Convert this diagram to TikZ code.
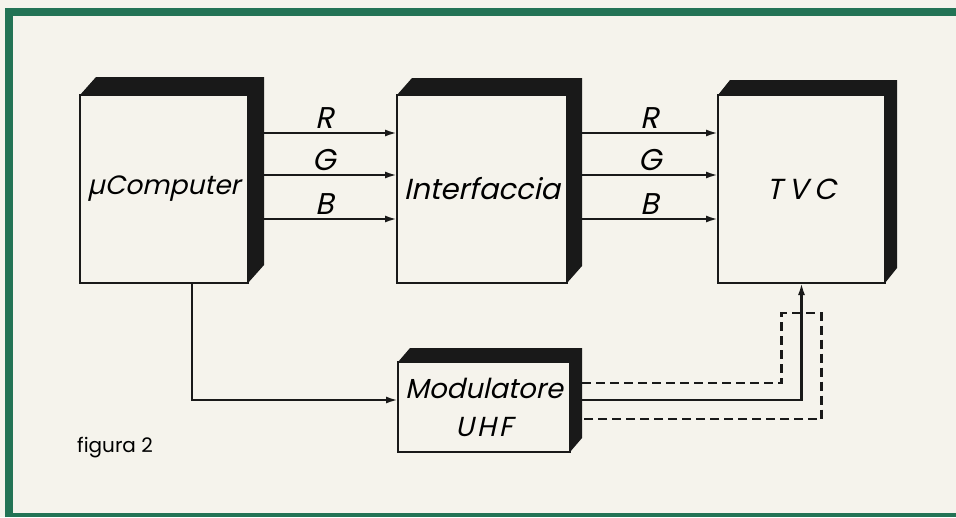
\documentclass[tikz,border=0pt]{standalone}
\usepackage{fontspec}
\setmainfont{Poppins}
\newfontfamily\obl{Poppins}[FakeSlant=0.22]
\usetikzlibrary{arrows.meta,calc}
\definecolor{paper}{RGB}{245,243,236}
\definecolor{framegreen}{RGB}{35,115,85}
\definecolor{ink}{RGB}{25,25,25}
\begin{document}
\begin{tikzpicture}[x=1pt,y=-1pt,
  blockface/.style={draw=ink,line width=2.8pt,fill=paper,inner sep=0pt,outer sep=0pt,
    font=\obl\fontsize{29}{38}\selectfont,align=center},
  wire/.style={draw=ink,line width=2.2pt},
  arr/.style={wire,-{Latex[length=12pt,width=7pt]}},
  shieldline/.style={wire,dash pattern=on 9pt off 5pt},
  lbl/.style={font=\obl\fontsize{30}{32}\selectfont,inner sep=0pt}
]
\fill[paper] (0,0) rectangle (956,517);
\useasboundingbox (0,0) rectangle (956,517);
% frame
\draw[framegreen,line width=8pt] (9,517) -- (9,12) -- (956,12);
\draw[framegreen,line width=4pt] (5,515) -- (956,515);
% blocks (front faces)
\node[blockface,minimum width=168pt,minimum height=188pt,font=\obl\fontsize{26.5}{34}\selectfont] (mc) at (164,189) {µComputer};
\node[blockface,minimum width=170pt,minimum height=188pt] (itf) at (482,189) {Interfaccia};
\node[blockface,minimum width=167pt,minimum height=188pt] (tvc) at (801.5,189) {\raisebox{-6pt}{T\hspace{6pt}V\hspace{6pt}C}};
\node[blockface,minimum width=172pt,minimum height=90pt,font=\obl\fontsize{27.5}{38}\selectfont] (mod) at (484,407) {Modulatore\\U\hspace{3pt}H\hspace{3pt}F};
% 3D extrusions (top and right faces)
\foreach \n/\dx/\dy in {mc/16/-18, itf/15/-17, tvc/12/-15, mod/12/-14}{
  \fill[ink] (\n.north west) -- ++(\dx,\dy) -- ($(\n.north east)+(\dx,\dy)$)
    -- ($(\n.south east)+(\dx,\dy)$) -- (\n.south east) -- (\n.north east) -- cycle;
}
% RGB links
\coordinate (mcR) at ($(mc.north east)+(16,38)$);
\coordinate (mcG) at ($(mc.north east)+(16,80)$);
\coordinate (mcB) at ($(mc.north east)+(16,124)$);
\coordinate (itR) at ($(itf.north east)+(15,38)$);
\coordinate (itG) at ($(itf.north east)+(15,80)$);
\coordinate (itB) at ($(itf.north east)+(15,124)$);
\draw[arr] (mcR) -- (mcR -| itf.west) node[midway,above=3pt,lbl,xshift=-6pt] {R};
\draw[arr] (mcG) -- (mcG -| itf.west) node[midway,above=3pt,lbl,xshift=-6pt] {G};
\draw[arr] (mcB) -- (mcB -| itf.west) node[midway,above=3pt,lbl,xshift=-6pt] {B};
\draw[arr] (itR) -- (itR -| tvc.west) node[midway,above=3pt,lbl] {R};
\draw[arr] (itG) -- (itG -| tvc.west) node[midway,above=3pt,lbl] {G};
\draw[arr] (itB) -- (itB -| tvc.west) node[midway,above=3pt,lbl] {B};
% computer to modulator
\coordinate (mcd) at ($(mc.south)+(28,0)$);
\draw[arr] (mcd) |- ($(mod.west)+(0,-7)$);
% modulator to TV
\coordinate (mE) at ($(mod.east)+(12,0)$);
\draw[shieldline] ($(mE)+(0,-24)$) -| ($(tvc.south)+(-20,30)$) -- ($(tvc.south)+(20,30)$) |- ($(mE)+(0,12)$);
\draw[arr] ($(mE)+(0,-7)$) -| (tvc.south);
% caption
\node[font=\fontsize{20}{22}\selectfont,anchor=base west,inner sep=0pt] (cap) at (77,452) {figura 2};
\end{tikzpicture}
\end{document}
